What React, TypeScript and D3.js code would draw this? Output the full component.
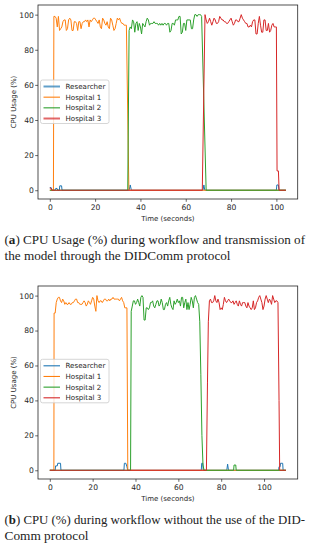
import React, { useEffect, useRef } from "react";
import * as d3 from "d3";

type Pt = [number, number];

const seriesNames = ["Researcher", "Hospital 1", "Hospital 2", "Hospital 3"];
const seriesColors = ["#1f77b4", "#ff7f0e", "#2ca02c", "#d62728"];
const xTicks = [0, 20, 40, 60, 80, 100];
const yTicks = [0, 20, 40, 60, 80, 100];
const sampleStep = 0.5; // seconds between readings on the busy plateaus

// (a) workflow + DIDComm transmission
const h1aTop = [99, 99, 98, 93, 99, 91, 92, 93, 96, 97, 97, 91, 92, 97, 98, 97, 91, 91, 96, 96, 95, 91, 96, 96, 92, 95, 96, 96, 97, 96, 97, 93, 97, 96, 97, 98, 98, 97, 96, 95, 97, 93, 92, 98, 97, 95, 94, 96, 93, 92, 98, 97, 94, 91, 92, 95, 98, 97, 98, 96, 95, 95, 94, 94, 94];
const h2aTop = [91, 93, 92, 97, 96, 90, 95, 96, 91, 95, 93, 89, 95, 94, 93, 96, 98, 97, 94, 95, 95, 95, 96, 95, 95, 95, 94, 95, 94, 95, 94, 95, 95, 94, 95, 95, 90, 91, 95, 95, 94, 97, 97, 97, 99, 99, 89, 90, 95, 95, 91, 97, 97, 97, 97, 92, 92, 97, 100, 100, 99, 100, 100, 100, 99];
const h3aTop = [100, 97, 95, 96, 98, 96, 94, 96, 98, 97, 95, 95, 96, 99, 98, 97, 97, 96, 96, 95, 95, 96, 97, 98, 96, 94, 95, 97, 97, 96, 96, 98, 100, 98, 97, 96, 95, 95, 93, 93, 94, 93, 96, 97, 97, 89, 89, 95, 99, 94, 90, 90, 97, 97, 91, 91, 95, 90, 91, 94, 95, 93, 93, 93];

// (b) workflow without DIDComm
const h1bTop = [90, 90, 96, 98, 99, 99, 97, 96, 98, 97, 95, 96, 95, 95, 96, 95, 95, 96, 96, 97, 98, 98, 96, 96, 95, 95, 95, 96, 97, 96, 94, 95, 97, 96, 95, 97, 99, 98, 94, 91, 100, 97, 96, 97, 97, 96, 97, 98, 98, 97, 97, 98, 97, 98, 98, 99, 98, 98, 98, 98, 98, 97, 98, 99, 97, 96, 93, 93, 93];
const h2bTop = [91, 94, 97, 97, 95, 96, 98, 96, 94, 99, 100, 99, 86, 86, 93, 93, 92, 93, 96, 96, 97, 94, 93, 95, 97, 97, 94, 95, 98, 96, 92, 92, 95, 96, 94, 97, 99, 95, 93, 92, 97, 95, 96, 98, 96, 97, 94, 99, 99, 93, 96, 98, 92, 96, 92, 95, 99, 97, 93, 99, 100, 98, 96, 95];
const h3bTop = [97, 98, 96, 96, 97, 100, 97, 96, 98, 96, 92, 93, 92, 95, 99, 97, 96, 97, 98, 97, 96, 96, 97, 95, 96, 97, 95, 94, 97, 95, 94, 96, 96, 96, 94, 93, 96, 94, 93, 92, 93, 97, 92, 93, 96, 97, 99, 100, 98, 96, 92, 94, 98, 100, 98, 96, 98, 97, 95, 100, 98, 96, 97, 97, 96];

const seg = (start: number, values: number[]): Pt[] =>
  values.map((v, i) => [start + i * sampleStep, v]);

const researcherA: Pt[] = [[0, 1.5], [0.6, 1.5], [1, 0], [2.3, 0], [2.6, 1], [3.2, 1], [3.5, 0], [4.2, 0], [4.4, 2.5], [5.2, 2.5], [5.4, 0], [35, 0], [35.5, 3], [36, 0], [67.6, 0], [68, 3], [68.4, 0], [100, 0], [100.2, 3], [100.9, 3], [101.1, 0], [104.2, 0]];
const hospital1A: Pt[] = [[0, 0], [1.6, 0], ...seg(1.8, h1aTop), [34.9, 0], [104.2, 0]];
const hospital2A: Pt[] = [[0, 0], [34.4, 0], ...seg(35, h2aTop), [69, 0], [104.2, 0]];
const hospital3A: Pt[] = [[0, 1.2], [0.5, 1.2], [0.8, 0], [67.3, 0], ...seg(68.5, h3aTop), [100.3, 11], [100.9, 11], [101.2, 0], [104.2, 0]];

const researcherB: Pt[] = [[0, 0], [2.5, 0], [2.7, 2.5], [3.5, 2.5], [3.7, 4], [5, 4], [5.2, 0], [34.6, 0], [34.8, 4], [35.5, 4], [36, 2], [36.4, 0], [70.7, 0], [70.9, 4], [71.4, 4], [71.6, 0], [82.6, 0], [83, 3.5], [83.4, 0], [106.8, 0], [107, 2], [107.5, 2], [107.7, 4], [108.7, 4], [108.9, 0], [110.2, 0]];
const hospital1B: Pt[] = [[0, 0], [1.9, 0], ...seg(2, h1bTop), [36.4, 0], [110.2, 0]];
const hospital2B: Pt[] = [[0, 0], [37.7, 0], ...seg(38, h2bTop), [70, 85], [70.5, 55], [71, 20], [71.5, 3], [72, 0], [85.8, 0], [86, 3], [86.8, 3], [87, 0], [110.2, 0]];
const hospital3B: Pt[] = [[0, 0], [73.1, 0], [73.6, 50], [74, 85], ...seg(74.5, h3bTop), [107, 40], [107.3, 0], [110.2, 0]];

const captionA = ["CPU Usage (%) during workflow and transmission of", "the model through the DIDComm protocol"];
const captionB = ["CPU (%) during workflow without the use of the DID-", "Comm protocol"];

const plotLeft = 38;
const plotRight = 297.7;

const panels = [
  {
    tag: "a", top: 5, bottom: 199, xMax: 104.2, legendTop: 80,
    series: [researcherA, hospital1A, hospital2A, hospital3A],
    handleWidth: [2, 1.1, 1.1, 2], handleOpacity: [0.7, 1, 1, 0.7],
    caption: captionA, captionY: [244, 259.5], captionW: [300.5, 226],
  },
  {
    tag: "b", top: 286, bottom: 479, xMax: 110.2, legendTop: 359.3,
    series: [researcherB, hospital1B, hospital2B, hospital3B],
    handleWidth: [1.1, 1.1, 1.1, 1.1], handleOpacity: [1, 1, 1, 1],
    caption: captionB, captionY: [524, 540], captionW: [300.5, 84],
  },
];

const sans = "DejaVu Sans, sans-serif";
const ink = "#262626";

const App: React.FC = () => {
  const ref = useRef<SVGSVGElement>(null);

  useEffect(() => {
    if (!ref.current) return;
    const svg = d3.select(ref.current);
    svg.selectAll("*").remove();

    panels.forEach((p, pi) => {
      const x = d3
        .scaleLinear()
        .domain([-0.05 * p.xMax, 1.05 * p.xMax])
        .range([plotLeft, plotRight]);
      const y = d3.scaleLinear().domain([-5, 105.5]).range([p.bottom, p.top]);

      const g = svg.append("g");
      const clipId = `clip-${pi}`;
      g.append("clipPath")
        .attr("id", clipId)
        .append("rect")
        .attr("x", plotLeft)
        .attr("y", p.top)
        .attr("width", plotRight - plotLeft)
        .attr("height", p.bottom - p.top);

      const line = d3
        .line<Pt>()
        .x((d) => x(d[0]))
        .y((d) => y(d[1]));

      p.series.forEach((s, i) => {
        g.append("path")
          .datum(s)
          .attr("d", line)
          .attr("fill", "none")
          .attr("stroke", seriesColors[i])
          .attr("stroke-width", 1)
          .attr("stroke-linejoin", "round")
          .attr("clip-path", `url(#${clipId})`);
      });

      // axes
      const xAxis = g
        .append("g")
        .attr("transform", `translate(0,${p.bottom})`)
        .call(d3.axisBottom(x).tickValues(xTicks).tickSize(2.8).tickPadding(2.6));
      const yAxis = g
        .append("g")
        .attr("transform", `translate(${plotLeft},0)`)
        .call(d3.axisLeft(y).tickValues(yTicks).tickSize(2.8).tickPadding(1.4));
      [xAxis, yAxis].forEach((ax) => {
        ax.select(".domain").remove();
        ax.selectAll("line").attr("stroke", ink).attr("stroke-width", 0.7);
        ax.selectAll("text")
          .attr("font-family", sans)
          .attr("font-size", 7.6)
          .attr("fill", ink);
      });

      g.append("rect")
        .attr("x", plotLeft)
        .attr("y", p.top)
        .attr("width", plotRight - plotLeft)
        .attr("height", p.bottom - p.top)
        .attr("fill", "none")
        .attr("stroke", ink)
        .attr("stroke-width", 0.8);

      g.append("text")
        .attr("x", (plotLeft + plotRight) / 2)
        .attr("y", p.bottom + 21.5)
        .attr("text-anchor", "middle")
        .attr("font-family", sans)
        .attr("font-size", 7)
        .attr("fill", ink)
        .text("Time (seconds)");
      g.append("text")
        .attr("transform", `translate(15.5,${(p.top + p.bottom) / 2}) rotate(-90)`)
        .attr("text-anchor", "middle")
        .attr("font-family", sans)
        .attr("font-size", 7)
        .attr("fill", ink)
        .text("CPU Usage (%)");

      // legend
      const lg = g.append("g");
      lg.append("rect")
        .attr("x", 40.5)
        .attr("y", p.legendTop)
        .attr("width", 68.5)
        .attr("height", 43.5)
        .attr("rx", 2)
        .attr("fill", "#fff")
        .attr("fill-opacity", 0.8)
        .attr("stroke", "#cccccc")
        .attr("stroke-width", 0.8);
      seriesNames.forEach((name, i) => {
        const ly = p.legendTop + 6.5 + i * 10.67;
        lg.append("line")
          .attr("x1", 43.5)
          .attr("x2", 60)
          .attr("y1", ly)
          .attr("y2", ly)
          .attr("stroke", seriesColors[i])
          .attr("stroke-width", p.handleWidth[i])
          .attr("stroke-opacity", p.handleOpacity[i]);
        lg.append("text")
          .attr("x", 65.5)
          .attr("y", ly)
          .attr("dy", "0.35em")
          .attr("font-family", sans)
          .attr("font-size", 7.1)
          .attr("fill", ink)
          .text(name);
      });

      // caption
      p.caption.forEach((txt, li) => {
        const t = svg
          .append("text")
          .attr("x", 4.5)
          .attr("y", p.captionY[li])
          .attr("font-family", "Liberation Serif, serif")
          .attr("font-size", 13)
          .attr("fill", "#222")
          .attr("textLength", p.captionW[li])
          .attr("lengthAdjust", "spacingAndGlyphs");
        if (li === 0) {
          t.append("tspan").text("(");
          t.append("tspan").attr("font-weight", "bold").text(p.tag);
          t.append("tspan").text(") " + txt);
        } else {
          t.text(txt);
        }
      });
    });
  }, []);

  return (
    <svg
      ref={ref}
      width={313}
      height={550}
      style={{ position: "absolute", left: 0, top: 0, background: "#fff" }}
    ></svg>
  );
};

export default App;
